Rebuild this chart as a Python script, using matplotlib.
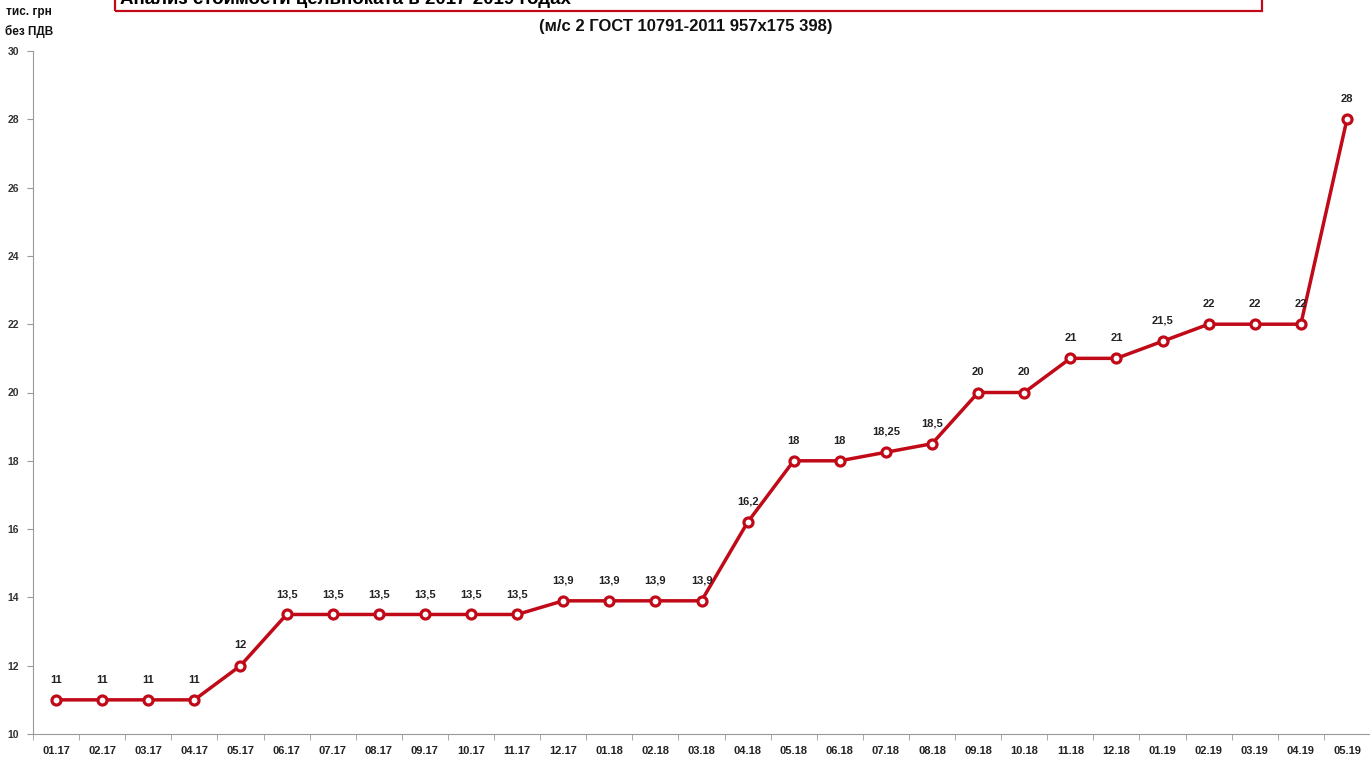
import matplotlib.pyplot as plt
from matplotlib.patches import Rectangle

# Дані графіка
months = ['01.17', '02.17', '03.17', '04.17', '05.17', '06.17', '07.17', '08.17', '09.17',
          '10.17', '11.17', '12.17', '01.18', '02.18', '03.18', '04.18', '05.18', '06.18',
          '07.18', '08.18', '09.18', '10.18', '11.18', '12.18', '01.19', '02.19', '03.19',
          '04.19', '05.19']
prices = [11, 11, 11, 11, 12, 13.5, 13.5, 13.5, 13.5, 13.5, 13.5, 13.9, 13.9, 13.9, 13.9,
          16.2, 18, 18, 18.25, 18.5, 20, 20, 21, 21, 21.5, 22, 22, 22, 28]
y_ticks = [10, 12, 14, 16, 18, 20, 22, 24, 26, 28, 30]

title = 'Анализ стоимости цельноката в 2017-2019 годах'
subtitle = '(м/с 2 ГОСТ 10791-2011 957х175 398)'
y_label = 'тис. грн\nбез ПДВ'

plt.rcParams['font.family'] = ['Liberation Sans Narrow', 'Liberation Sans', 'DejaVu Sans']
W, H = 1370, 759
fig = plt.figure(figsize=(W / 100, H / 100), dpi=100)
ax = fig.add_axes([33 / W, 1 - 734 / H, 1 - 33 / W, (734 - 51) / H])

red = '#C00A18'
x = list(range(len(months)))
ax.plot(x, prices, color=red, lw=2.5, marker='o', ms=6.5, mfc='white', mec=red, mew=2.3,
        zorder=3)

def fmt(v):
    # десяткова кома, як в оригіналі
    return ('%g' % v).replace('.', ',')

for xi, v in zip(x, prices):
    ax.annotate(fmt(v), (xi, v), xytext=(0, 11), textcoords='offset points',
                ha='center', va='bottom', fontsize=8, fontweight='bold', color='#222222')

ax.set_xlim(-0.5, len(months) - 0.5)
ax.set_ylim(10, 30)
ax.set_yticks(y_ticks)
ax.set_yticklabels([str(t) for t in y_ticks], fontsize=7.5, fontweight='bold', color='#333333')
ax.set_xticks(x)
ax.set_xticklabels(months, fontsize=8, fontweight='bold', color='#222222')
ax.set_xticks([i - 0.5 for i in range(len(months) + 1)], minor=True)
ax.tick_params(axis='x', which='major', length=0, pad=9)
ax.tick_params(axis='x', which='minor', length=4, color='#999999')
ax.tick_params(axis='y', length=4, color='#999999', pad=6)

for side in ['top', 'right']:
    ax.spines[side].set_visible(False)
for side in ['left', 'bottom']:
    ax.spines[side].set_color('#999999')
    ax.spines[side].set_linewidth(0.8)

# Заголовок у червоній рамці (обрізаний зверху, як в оригіналі)
fig.patches.append(Rectangle((115 / W, 1 - 11 / H), (1262 - 115) / W, 40 / H,
                             transform=fig.transFigure, fill=False, ec=red, lw=1.6,
                             clip_on=False))
fig.text(120 / W, 1 - 4 / H, title, fontsize=13.5, fontweight='bold', ha='left',
         va='baseline', color='black')
fig.text(686 / W, 1 - 27 / H, subtitle, fontsize=12, fontweight='bold', ha='center',
         va='center', color='#111111')
fig.text(29 / W, 1 - 22 / H, y_label, fontsize=8.5, fontweight='bold', ha='center',
         va='center', color='#111111', linespacing=1.6)

fig.savefig('out.png', dpi=100)
